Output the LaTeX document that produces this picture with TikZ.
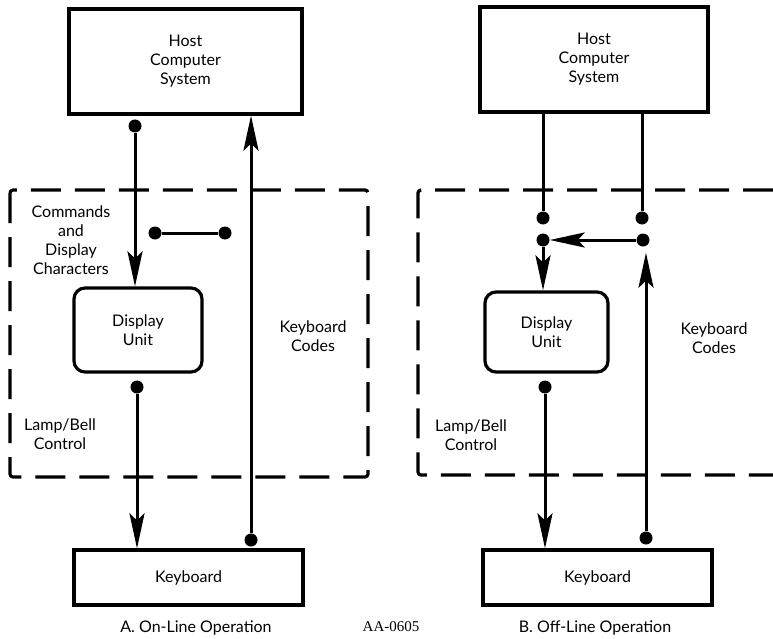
\documentclass[tikz,border=0pt]{standalone}
\usepackage{fontspec}
\setmainfont{Lato}
\newfontfamily\capserif{Liberation Serif}
\usetikzlibrary{arrows.meta}
\begin{document}
\begin{tikzpicture}[x=1pt,y=-1pt,
  lbl/.style={align=center,inner sep=0pt,font=\fontsize{16}{19}\selectfont},
  sqbox/.style={lbl,draw,line width=3.2pt},
  rbox/.style={lbl,draw,line width=3.2pt,rounded corners=11pt},
  dot/.style={circle,fill,inner sep=0pt,minimum size=13pt},
  conn/.style={line width=3pt},
  arr/.style={conn,-{Stealth[length=35pt,width=15pt,inset=7pt]}},
  dashbox/.style={line width=3.2pt,dash pattern=on 30pt off 14pt,rounded corners=3pt}
]
\useasboundingbox (0,0) rectangle (773,639);

% ---------- A. On-Line ----------
\node[sqbox,minimum width=233pt,minimum height=105pt] (hostA) at (185.5,61.5) {Host\\Computer\\System};
\node[rbox,minimum width=128pt,minimum height=84pt] (dispA) at (138,330) {Display\\Unit};
\node[sqbox,minimum width=229pt,minimum height=55pt] (kbdA) at (188.5,577.5) {Keyboard};
\draw[dashbox] (10,190) rectangle (368,477);

\node[dot] (hA1) at (135,126) {};
\node[dot] (kA1) at (251,540) {};
\node[dot] (sA1) at (155,233) {};
\node[dot] (sA2) at (225,233) {};
\node[dot] (dA1) at (137,387) {};

\draw[arr] (hA1) -- (hA1 |- dispA.north);
\draw[arr] (kA1) -- (kA1 |- hostA.south);
\draw[conn] (sA1) -- (sA2);
\draw[arr] (dA1) -- (dA1 |- kbdA.north);

\node[lbl] (cmdA) at (71,240) {Commands\\and\\Display\\Characters};
\node[lbl] (kcA) at (313,336) {Keyboard\\Codes};
\node[lbl] (lampA) at (60,434) {Lamp/Bell\\Control};
\node[lbl] (capA) at (196,628) {A.\ On-Line Operation};

% ---------- B. Off-Line ----------
\node[sqbox,minimum width=228pt,minimum height=105pt] (hostB) at (594,59.5) {Host\\Computer\\System};
\node[rbox,minimum width=123pt,minimum height=80pt] (dispB) at (546.5,332) {Display\\Unit};
\node[sqbox,minimum width=229pt,minimum height=55pt] (kbdB) at (597.5,577.5) {Keyboard};
\draw[dashbox] (773,190) -- (418,190) -- (418,475) -- (773,475);

\node[dot] (uB1) at (543,218) {};
\node[dot] (uB2) at (642,218) {};
\node[dot] (lB1) at (543,240) {};
\node[dot] (lB2) at (643,240) {};
\node[dot] (dB1) at (545,387) {};
\node[dot] (kB1) at (646,538) {};

\draw[conn] (uB1 |- hostB.south) -- (uB1);
\draw[conn] (uB2 |- hostB.south) -- (uB2);
\draw[arr] (lB2) -- (lB1);
\draw[arr] (lB1) -- (lB1 |- dispB.north);
\draw[arr] (dB1) -- (dB1 |- kbdB.north);
\draw[arr,shorten >=6pt] (kB1) -- (kB1 |- lB2.south);

\node[lbl] (kcB) at (714,338) {Keyboard\\Codes};
\node[lbl] (lampB) at (471,435) {Lamp/Bell\\Control};
\node[lbl] (capB) at (595,628) {B.\ Off-Line Operation};

\node[inner sep=0pt,font=\capserif\fontsize{15}{18}\selectfont] (aa) at (391,627) {AA-0605};
\end{tikzpicture}
\end{document}
